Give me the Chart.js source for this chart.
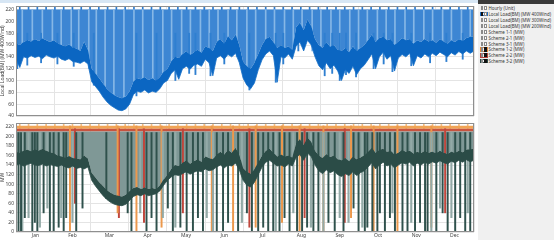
<!DOCTYPE html>
<html>
<head>
<meta charset="utf-8">
<script src="https://cdn.jsdelivr.net/npm/chart.js"></script>
<style>
  body { margin:0; width:554px; height:240px; background:#fff; overflow:hidden; font-family:"Noto Sans", sans-serif; }
  #strip { position:absolute; left:0; top:0; width:478px; height:3px; background:#d7e6f4; }
  #top { position:absolute; left:0; top:0; width:478px; height:121px; }
  #bottom { position:absolute; left:0; top:118px; width:478px; height:122px; }
  #legend { position:absolute; left:478px; top:0; width:76px; height:240px; background:#f0f0f0; }
  #legend .head { height:4px; background:#3a3a3a; margin-bottom:1.3px; }
  #legend .row { height:5.9px; font-size:4.4px; color:#333; white-space:nowrap; display:flex; align-items:center; }
  .sw { display:inline-flex; box-sizing:border-box; width:8px; height:4.4px; margin:0 1px 0 1.5px; border:0.7px solid transparent; gap:0.5px; align-items:center; justify-content:center; }
  .sw i { display:block; width:2.2px; height:2.2px; border:0.5px solid #8a8a8a; background:#fff; }
  .sw i.on { background:#111; border-color:#111; }
</style>
</head>
<body>
<div id="strip"></div>
<div id="top"><canvas id="topChart"></canvas></div>
<div id="bottom"><canvas id="bottomChart"></canvas></div>
<div id="legend"><div class="head"></div></div>
<script>
// axis labels
var months = ['Jan', 'Feb', 'Mar', 'Apr', 'May', 'Jun', 'Jul', 'Aug', 'Sep', 'Oct', 'Nov', 'Dec'];
var monthStarts = [0, 31, 59, 90, 120, 151, 181, 212, 243, 273, 304, 334, 365];
var topTicks = [40, 60, 80, 100, 120, 140, 160, 180, 200, 220];
var bottomTicks = [0, 20, 40, 60, 80, 100, 120, 140, 160, 180, 200, 220];

// top panel: Local Load(BM) (MW 400Wind), lower edge and upper edge of the dense band
var topLow = [
  136, 122, 140, 138, 142, 139, 141, 137, 143, 140,
  138, 141, 136, 134, 137, 132, 131, 129, 133, 128,
  98, 90, 82, 72, 64, 58, 54, 50, 49, 52,
  60, 76, 82, 80, 84, 79, 82, 80, 86, 96,
  100, 112, 118, 102, 120, 124, 119, 126, 128, 124,
  136, 130, 108, 138, 142, 136, 144, 140, 146, 130,
  104, 92, 86, 96, 118, 135, 145, 150, 142, 97,
  140, 138, 145, 136, 158, 165, 150, 168, 160, 140,
  125, 118, 130, 120, 126, 116, 100, 118, 112, 124,
  110, 120, 126, 135, 145, 120, 140, 148, 136, 142,
  116, 138, 144, 140, 146, 125, 142, 138, 145, 140,
  146, 142, 148, 144, 140, 147, 143, 149, 145, 150, 146, 150
];
var topBand = [
  162, 160, 165, 168, 166, 170, 167, 171, 168, 165,
  168, 163, 160, 158, 161, 156, 154, 150, 166, 152,
  120, 112, 104, 95, 86, 80, 75, 72, 70, 73,
  82, 98, 104, 102, 106, 101, 104, 100, 106, 115,
  120, 132, 140, 138, 145, 150, 143, 148, 152, 147,
  158, 155, 150, 165, 170, 162, 175, 168, 178, 160,
  132, 124, 120, 130, 145, 160, 170, 174, 165, 155,
  160, 155, 158, 152, 190, 198, 185, 203, 192, 170,
  160, 155, 165, 157, 160, 152, 150, 155, 148, 158,
  150, 155, 160, 168, 178, 165, 172, 174, 168, 170,
  160, 166, 172, 168, 170, 162, 168, 165, 170, 166,
  168, 164, 170, 166, 162, 168, 165, 170, 167, 172, 174, 175
];
var topStripeDays = [5, 13, 21, 29, 36, 44, 50, 58, 64, 71, 78, 86, 94, 101, 109, 117, 124, 132, 139, 147,
  154, 161, 169, 176, 184, 191, 199, 206, 214, 221, 228, 236, 243, 251, 258, 266, 273, 280, 288, 295,
  302, 310, 317, 325, 332, 340, 347, 355, 362];
var topStripeLows = [145, 145, 142, 142, 140, 138, 135, 120, 92, 72, 60, 58, 84, 86, 86, 100, 118, 124, 128, 130,
  140, 145, 148, 140, 96, 110, 150, 148, 142, 150, 160, 150, 124, 126, 115, 122, 124, 140, 144, 140,
  140, 144, 144, 148, 148, 146, 148, 150, 152];
var topDipDays = [1, 9, 20, 33, 46, 62, 96, 112, 127, 138, 143, 155, 166, 186, 207, 213, 225, 246, 252, 258, 263, 271, 285, 293, 300, 315, 330, 343, 356];
var topDipLows = [120, 126, 130, 128, 124, 92, 74, 92, 100, 112, 110, 108, 128, 84, 97, 128, 150, 108, 112, 100, 110, 106, 120, 128, 115, 125, 130, 132, 136];
var weeklyPeakDays = [3, 10, 17, 24, 31, 38, 45, 52, 59, 66, 73, 80, 87, 94, 101, 108, 115, 122, 129, 136,
  143, 150, 157, 164, 171, 178, 185, 192, 199, 206, 213, 220, 227, 234, 241, 248, 255, 262, 269, 276,
  283, 290, 297, 304, 311, 318, 325, 332, 339, 346, 353, 360];

// bottom panel: Scheme 3-2 band, Scheme 1-2 / 2-2 / 3-2 caps and dips
var botLow = [
  140, 142, 138, 141, 144, 140, 139, 142, 138, 141,
  139, 137, 140, 136, 134, 138, 133, 135, 132, 136,
  108, 96, 86, 76, 68, 62, 58, 56, 55, 58,
  66, 74, 78, 76, 80, 76, 78, 80, 86, 98,
  108, 115, 120, 118, 122, 126, 121, 125, 128, 126,
  132, 128, 130, 136, 140, 134, 140, 138, 144, 130,
  108, 98, 94, 104, 120, 136, 146, 150, 144, 138,
  140, 136, 142, 138, 156, 162, 150, 165, 158, 140,
  128, 122, 130, 124, 128, 120, 116, 122, 118, 126,
  118, 124, 128, 136, 145, 132, 140, 146, 138, 142,
  134, 140, 145, 142, 146, 138, 144, 140, 146, 142,
  147, 144, 149, 145, 142, 148, 145, 150, 146, 151, 147, 150
];
var botBand = [
  168, 166, 170, 172, 169, 173, 170, 174, 170, 167,
  165, 160, 158, 156, 159, 155, 153, 152, 160, 154,
  124, 114, 104, 96, 88, 82, 78, 76, 74, 78,
  86, 92, 94, 90, 93, 90, 92, 90, 98, 110,
  120, 132, 140, 138, 145, 150, 143, 148, 152, 147,
  158, 155, 152, 162, 168, 162, 172, 166, 176, 162,
  134, 126, 122, 132, 146, 160, 170, 174, 166, 158,
  162, 158, 160, 156, 186, 194, 182, 198, 188, 170,
  160, 155, 163, 157, 160, 152, 150, 155, 148, 158,
  152, 156, 160, 168, 176, 166, 172, 174, 168, 170,
  162, 166, 172, 168, 170, 164, 168, 165, 170, 166,
  168, 165, 170, 166, 163, 168, 166, 170, 167, 172, 173, 174
];
var capLevels = [222, 216, 210]; // Scheme 1-2, 2-2, 3-2
var greenDipDays = [2, 4, 7, 13, 15, 17, 22, 27, 30, 34, 38, 40, 48, 53, 72, 89, 92, 104, 108, 112,
  121, 125, 131, 136, 141, 145, 149, 160, 165, 169, 177, 184, 188, 193, 197, 201, 205, 210, 214, 218,
  224, 228, 232, 237, 241, 249, 254, 261, 269, 273, 278, 280, 284, 288, 290, 294, 298, 302, 308, 312,
  318, 322, 326, 328, 335, 340, 344, 350, 354, 358, 362];
var greenDipLows = [0, 0, 30, 0, 20, 0, 40, 0, 0, 10, 0, 30, 0, 50, 70, 40, 0, 0, 30, 0,
  50, 0, 10, 0, 0, 30, 0, 0, 0, 20, 0, 40, 0, 0, 10, 0, 0, 0, 30, 0,
  0, 0, 10, 0, 0, 20, 0, 0, 50, 0, 0, 10, 0, 0, 40, 0, 30, 0, 0, 0,
  0, 20, 0, 0, 0, 40, 0, 0, 30, 0, 0];
var lightDipDays = [5, 10, 19, 25, 36, 45, 99, 117, 127, 152, 157, 180, 207, 221, 235, 245, 258, 265, 276, 300, 315, 331, 338, 347, 360];
var lightDipLows = [0, 30, 10, 50, 30, 20, 40, 30, 10, 30, 0, 20, 0, 40, 10, 0, 30, 20, 10, 40, 20, 0, 50, 30, 40];
var orangeDipDays = [43, 81, 96, 116, 156, 173, 191, 212, 226, 245, 267, 285, 304, 331];
var orangeDipLows = [0, 40, 0, 10, 0, 0, 10, 20, 0, 0, 30, 0, 0, 10];
var redDipDays = [47, 82, 102, 133, 186, 230, 262, 342];
var redDipLows = [60, 30, 20, 40, 10, 30, 20, 40];

var legendLabels = ['Hourly (Unit)', 'Local Load(BM) (MW 400Wind)', 'Local Load(BM) (MW 300Wind)', 'Local Load(BM) (MW 200Wind)',
  'Scheme 1-1 (MW)', 'Scheme 2-1 (MW)', 'Scheme 3-1 (MW)', 'Scheme 1-2 (MW)', 'Scheme 2-2 (MW)', 'Scheme 3-2 (MW)'];
var legendColors = [null, '#1f6fc5', null, null, null, null, null, '#e98a3a', '#b8433b', '#2b4a46'];

var sampleStep = 365 / (topLow.length - 1);
var FONT = '"Noto Sans", sans-serif';

function line(arr) {
  return arr.map(function (v, i) { return { x: i * sampleStep, y: v }; });
}
function bars(days, lows, high) {
  return days.map(function (d, i) { return { x: d, y: [lows[i], high] }; });
}
function flat(v) {
  return [{ x: 0, y: v }, { x: 365, y: v }];
}
function barSet(data, color, w) {
  return { type: 'bar', data: data, backgroundColor: color, borderWidth: 0, barThickness: w, grouped: false };
}
function lineSet(data, fill, bg, border, bw) {
  return { type: 'line', data: data, fill: fill, backgroundColor: bg, borderColor: border, borderWidth: bw, pointRadius: 0, tension: 0 };
}

var frame = {
  id: 'frame',
  afterDatasetsDraw: function (c) {
    var a = c.chartArea, ctx = c.ctx;
    ctx.save();
    ctx.strokeStyle = '#8f8f8f';
    ctx.lineWidth = 1;
    ctx.strokeRect(Math.round(a.left) + 0.5, Math.round(a.top) + 0.5, Math.round(a.right - a.left) - 1, Math.round(a.bottom - a.top) - 1);
    ctx.restore();
  }
};

function makeOptions(yMin, yMax, yTicks, yTitle, padTop, showMonths) {
  var scales = {
    x: {
      type: 'linear', min: 0, max: 365, offset: false,
      afterBuildTicks: function (s) { s.ticks = monthStarts.map(function (v) { return { value: v }; }); },
      ticks: { display: false },
      grid: { color: '#e4e4e4', drawTicks: false, offset: false },
      border: { display: false },
      afterFit: function (s) { s.height = showMonths ? 0 : 5; }
    },
    y: {
      min: yMin, max: yMax,
      afterBuildTicks: function (s) { s.ticks = yTicks.map(function (v) { return { value: v }; }); },
      ticks: { font: { size: 5, family: FONT }, color: '#444', padding: 2 },
      grid: { color: '#e4e4e4', drawTicks: false },
      border: { display: false },
      title: { display: true, text: yTitle, font: { size: 5, family: FONT }, color: '#444', padding: 0 },
      afterFit: function (s) { s.width = 16; }
    }
  };
  if (showMonths) {
    scales.x2 = {
      type: 'linear', position: 'bottom', min: 0, max: 365, offset: false,
      afterBuildTicks: function (s) {
        s.ticks = months.map(function (m, i) { return { value: (monthStarts[i] + monthStarts[i + 1]) / 2 }; });
      },
      ticks: { font: { size: 5, family: FONT }, color: '#444', padding: 1, autoSkip: false, maxRotation: 0,
        callback: function (v, i) { return months[i]; } },
      grid: { display: false, drawTicks: false },
      border: { display: false },
      afterFit: function (s) { s.height = 8; }
    };
  }
  return {
    responsive: true, maintainAspectRatio: false, animation: false,
    layout: { padding: { top: padTop, right: 4, left: 0, bottom: 0 } },
    plugins: { legend: { display: false }, tooltip: { enabled: false } },
    scales: scales
  };
}

new Chart(document.getElementById('topChart'), {
  type: 'line',
  data: {
    datasets: [
      lineSet(line(topLow), 3, '#0b66c2', '#1670c8', 0.8),
      barSet(bars(topDipDays, topDipLows, 180), '#2f7fd0', 1.2),
      barSet(bars(topStripeDays, topStripeLows, 220), '#86b7e6', 1),
      lineSet(line(topBand), { value: 220 }, '#3d86d3', 'rgba(0,0,0,0)', 0),
      barSet(bars(weeklyPeakDays, weeklyPeakDays.map(function () { return 214; }), 225), '#2a7ad0', 1)
    ]
  },
  options: makeOptions(40, 226, topTicks, 'Local Load(BM) (MW 400Wind)', 6, false),
  plugins: [frame]
});

new Chart(document.getElementById('bottomChart'), {
  type: 'line',
  data: {
    datasets: [
      lineSet(line(botLow), 5, '#2b4c47', '#2b4c47', 0.8),
      barSet(bars(greenDipDays, greenDipLows, 208), '#2f514c', 1.3),
      barSet(bars(lightDipDays, lightDipLows, 208), '#93aaa7', 1.5),
      barSet(bars(orangeDipDays, orangeDipLows, capLevels[0]), '#ec984c', 1.3),
      barSet(bars(redDipDays, redDipLows, capLevels[1]), '#c0463c', 1.3),
      lineSet(line(botBand), { value: capLevels[2] }, '#7f9896', 'rgba(0,0,0,0)', 0),
      lineSet(flat(capLevels[1]), { value: capLevels[2] }, '#c65440', 'rgba(0,0,0,0)', 0),
      lineSet(flat(capLevels[0]), { value: capLevels[1] }, '#f0a455', 'rgba(0,0,0,0)', 0),
      barSet(bars(weeklyPeakDays, weeklyPeakDays.map(function () { return capLevels[1]; }), 226), '#f7be80', 1)
    ]
  },
  options: makeOptions(0, 228, bottomTicks, 'MW', 3, true),
  plugins: [frame]
});

// legend panel
var legend = document.getElementById('legend');
legendLabels.forEach(function (text, i) {
  var row = document.createElement('div');
  row.className = 'row';
  var col = legendColors[i];
  var first = i === 1 ? ' class="on"' : '';
  var second = i >= 7 ? ' class="on"' : '';
  row.innerHTML = '<span class="sw" style="border-color:' + (col || 'transparent') + '"><i' + first + '></i><i' + second + '></i></span><span>' + text + '</span>';
  legend.appendChild(row);
});
</script>
</body>
</html>
